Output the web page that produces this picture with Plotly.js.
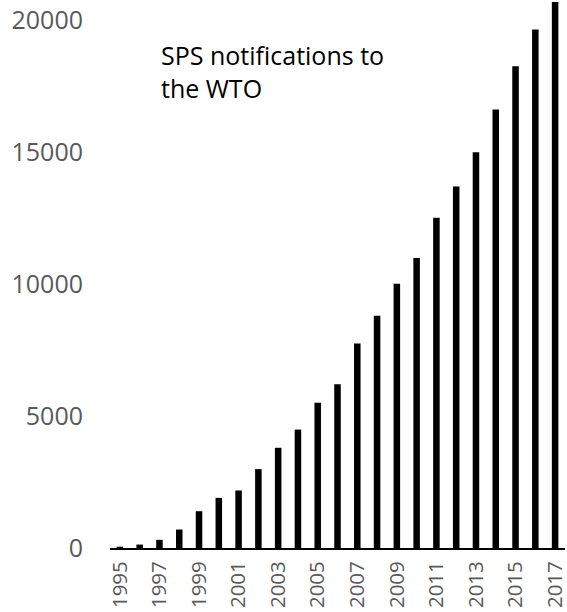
<!DOCTYPE html>
<html>
<head>
<meta charset="utf-8">
<script src="https://cdn.plot.ly/plotly-3.0.1.min.js"></script>
<style>html,body{margin:0;padding:0;background:#fff;}#chart{width:567px;height:612px;}</style>
</head>
<body>
<div id="chart"></div>
<script>
const years = ['1995','1996','1997','1998','1999','2000','2001','2002','2003','2004','2005','2006','2007','2008','2009','2010','2011','2012','2013','2014','2015','2016','2017'];
const notifications = [50,130,310,700,1395,1900,2180,2990,3800,4490,5505,6210,7755,8805,10020,11000,12520,13710,15010,16630,18270,19660,20700];
const xTickLabels = ['1995','1997','1999','2001','2003','2005','2007','2009','2011','2013','2015','2017'];
const yTickValues = [0,5000,10000,15000,20000];
const yTickLabels = ['0','5000','10000','15000','20000'];
const annotationText = 'SPS notifications to<br>the WTO';

const font = "Open Sans, Lato, sans-serif";
Plotly.newPlot('chart', [{
  type: 'bar',
  x: years,
  y: notifications,
  marker: {color: '#000000', line: {width: 0}},
  hoverinfo: 'x+y'
}], {
  width: 567, height: 612,
  margin: {l: 110, r: 2, t: 0, b: 64, pad: 0},
  paper_bgcolor: '#fff', plot_bgcolor: '#fff',
  bargap: 0.67,
  showlegend: false,
  font: {family: font, color: '#595959'},
  xaxis: {
    type: 'category',
    range: [-0.5, 22.5],
    tickmode: 'array',
    tickvals: xTickLabels,
    ticktext: xTickLabels,
    tickangle: -90,
    tickfont: {size: 20.5, color: '#595959', family: font},
    showline: true, linecolor: '#000', linewidth: 2,
    showgrid: false, zeroline: false,
    ticks: '', ticklabelstandoff: 3
  },
  yaxis: {
    range: [0, 20778],
    tickmode: 'array',
    tickvals: yTickValues,
    ticktext: yTickLabels,
    tickfont: {size: 25, color: '#595959', family: font},
    showline: false, showgrid: false, zeroline: false,
    ticks: '', ticklabelstandoff: 26
  },
  annotations: [{
    text: annotationText,
    xref: 'paper', yref: 'paper',
    x: 0.108, y: 0.934,
    xanchor: 'left', yanchor: 'top',
    align: 'left', showarrow: false,
    font: {size: 25, color: '#000', family: font}
  }]
}, {displayModeBar: false, staticPlot: true});
</script>
</body>
</html>
